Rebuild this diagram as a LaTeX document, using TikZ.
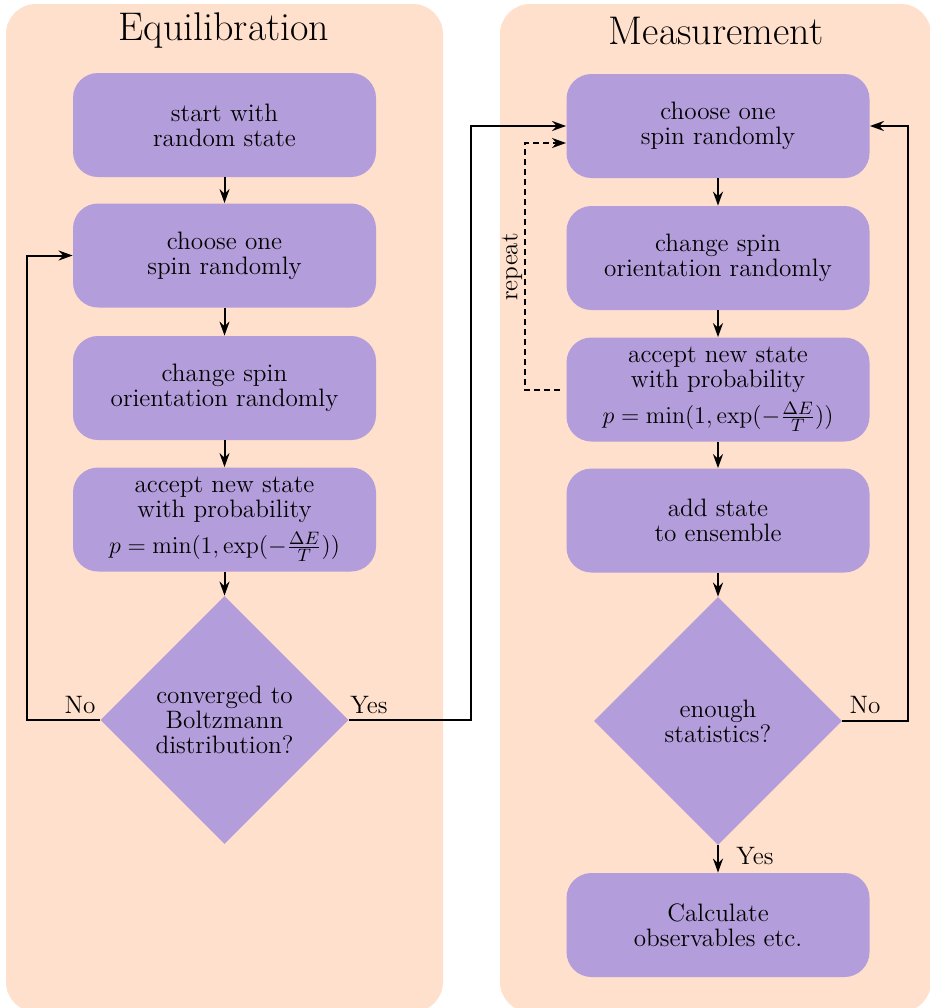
\documentclass[tikz,border=0pt]{standalone}
\usetikzlibrary{shapes.geometric,arrows.meta}
\definecolor{panelpeach}{RGB}{255,224,204}
\definecolor{boxpurple}{RGB}{179,157,219}
\begin{document}
\begin{tikzpicture}[x=0.5pt,y=-0.5pt,
 txt/.style={font=\fontsize{12.6}{12.6}\selectfont},
 stepbox/.style={rectangle, rounded corners=12.5pt, fill=boxpurple, minimum width=151.5pt, minimum height=52pt, align=center, inner sep=0pt, txt},
 decision/.style={diamond, aspect=1, fill=boxpurple, minimum width=124pt, minimum height=124pt, align=center, inner sep=0pt, txt},
 flow/.style={line width=1pt, -{Stealth[length=7pt,width=5pt]}},
 panel/.style={fill=panelpeach, rounded corners=15pt},
 title/.style={font=\fontsize{20}{24}\selectfont}]
\useasboundingbox (0,0) rectangle (930,1008);
\clip (0,0) rectangle (930,1008);
\path[panel] (6,4) rectangle (443,1012);
\path[panel] (500,4) rectangle (931,1012);

\node[title] (t1) at (224,31) {Equilibration};
\node[title] (t2) at (716,31) {Measurement};

% left column
\node[stepbox] (a1) at (224.5,125) {start with\\random state};
\node[stepbox] (a2) at (224.5,255.5) {choose one\\spin randomly};
\node[stepbox] (a3) at (224.5,388) {change spin\\orientation randomly};
\node[stepbox] (a4) at (224.5,519.5) {accept new state\\with probability\\[3.5pt]$p=\min(1,\exp(-\frac{\Delta E}{T}))$};
\node[decision] (ad) at (224.5,720) {converged to\\Boltzmann\\distribution?};

% right column
\node[stepbox] (b1) at (718,126) {choose one\\spin randomly};
\node[stepbox] (b2) at (718,258) {change spin\\orientation randomly};
\node[stepbox] (b3) at (718,389.5) {accept new state\\with probability\\[3.5pt]$p=\min(1,\exp(-\frac{\Delta E}{T}))$};
\node[stepbox] (b4) at (718,520.5) {add state\\to ensemble};
\node[decision] (bd) at (718,721) {enough\\statistics?};
\node[stepbox] (b5) at (718,925) {Calculate\\observables etc.};

% left arrows
\draw[flow] (a1) -- (a2);
\draw[flow] (a2) -- (a3);
\draw[flow] (a3) -- (a4);
\draw[flow] (a4) -- (ad);
\coordinate (nl) at (27,720);
\draw[flow] (ad.west) -- (nl) |- (a2.west);
\node[txt] (lno) at (80,705) {No};
\coordinate (yl) at (471,720);
\draw[flow] (ad.east) -- (yl) |- (b1.west);
\node[txt] (lyes) at (369,705) {Yes};

% right arrows
\draw[flow] (b1) -- (b2);
\draw[flow] (b2) -- (b3);
\draw[flow] (b3) -- (b4);
\draw[flow] (b4) -- (bd);
\draw[flow] (bd) -- (b5);
\node[txt] (ryes) at (755,856) {Yes};
\coordinate (nr) at (908,721);
\draw[flow] (bd.east) -- (nr) |- (b1.east);
\node[txt] (rno) at (865,705) {No};
\coordinate (rp) at (525,389.5);
\coordinate (rpend) at (566,143);
\draw[flow, dash pattern=on 3pt off 2pt] ([xshift=-3pt]b3.west) -- (rp) |- (rpend);
\node[txt, rotate=90] (rep) at (512,267) {repeat};
\end{tikzpicture}
\end{document}
